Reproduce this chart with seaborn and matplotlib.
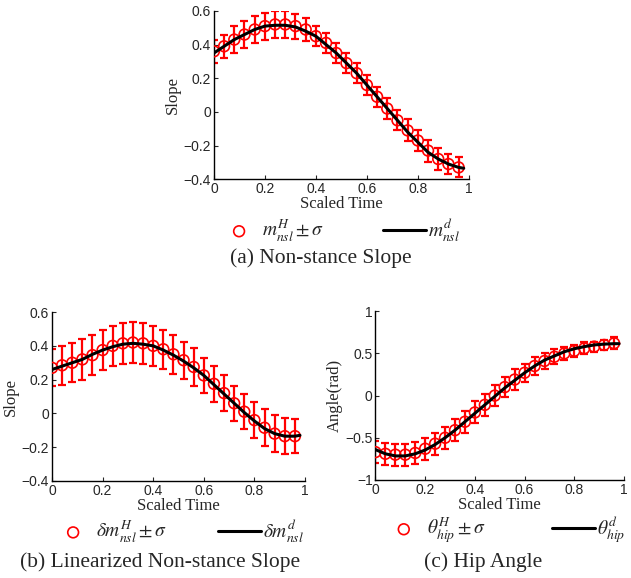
import numpy as np
import pandas as pd
import matplotlib
matplotlib.use("Agg")
import matplotlib.pyplot as plt
import seaborn as sns

# time samples for the human data markers and the desired curve
t_marks = [0.00, 0.04, 0.08, 0.12, 0.16, 0.20, 0.24, 0.28, 0.32, 0.36, 0.40, 0.44, 0.48,
           0.52, 0.56, 0.60, 0.64, 0.68, 0.72, 0.76, 0.80, 0.84, 0.88, 0.92, 0.96]
t_line = t_marks + [0.98]

# (a) non-stance slope
a_mean = [0.36, 0.39, 0.43, 0.46, 0.49, 0.51, 0.52, 0.52, 0.51, 0.49, 0.45, 0.41, 0.35,
          0.29, 0.23, 0.16, 0.09, 0.02, -0.05, -0.11, -0.17, -0.23, -0.28, -0.31, -0.33]
a_std = [0.07, 0.07, 0.08, 0.08, 0.08, 0.08, 0.08, 0.08, 0.075, 0.07, 0.06, 0.06, 0.06,
         0.06, 0.06, 0.06, 0.06, 0.06, 0.06, 0.065, 0.065, 0.065, 0.065, 0.06, 0.06]
a_des = [0.35, 0.39, 0.43, 0.46, 0.49, 0.51, 0.515, 0.515, 0.505, 0.48, 0.45, 0.40, 0.35,
         0.29, 0.23, 0.16, 0.09, 0.02, -0.05, -0.12, -0.18, -0.24, -0.28, -0.31, -0.33, -0.335]

# (b) linearized non-stance slope
b_mean = [0.27, 0.285, 0.30, 0.32, 0.345, 0.375, 0.40, 0.415, 0.42, 0.415, 0.40, 0.38, 0.35,
          0.315, 0.275, 0.225, 0.175, 0.12, 0.06, 0.01, -0.04, -0.085, -0.12, -0.135, -0.135]
b_std = [0.11, 0.115, 0.115, 0.12, 0.12, 0.12, 0.12, 0.12, 0.12, 0.12, 0.12, 0.115, 0.115,
         0.11, 0.11, 0.105, 0.105, 0.105, 0.105, 0.105, 0.105, 0.11, 0.11, 0.105, 0.10]
b_des = [0.26, 0.28, 0.30, 0.32, 0.35, 0.375, 0.395, 0.41, 0.415, 0.41, 0.40, 0.375, 0.345,
         0.31, 0.27, 0.225, 0.17, 0.115, 0.06, 0.005, -0.045, -0.09, -0.12, -0.135, -0.135, -0.13]

# (c) hip angle
c_mean = [-0.67, -0.69, -0.70, -0.70, -0.68, -0.63, -0.57, -0.50, -0.41, -0.31, -0.20, -0.11, 0.0,
          0.10, 0.19, 0.27, 0.35, 0.41, 0.46, 0.50, 0.53, 0.56, 0.58, 0.60, 0.62]
c_std = [0.13, 0.13, 0.13, 0.13, 0.13, 0.13, 0.13, 0.13, 0.13, 0.13, 0.13, 0.13, 0.12,
         0.12, 0.12, 0.11, 0.11, 0.10, 0.09, 0.08, 0.07, 0.07, 0.06, 0.06, 0.07]
c_des = [-0.64, -0.69, -0.715, -0.715, -0.69, -0.645, -0.58, -0.50, -0.41, -0.31, -0.21, -0.11, -0.01,
         0.09, 0.18, 0.27, 0.35, 0.42, 0.47, 0.52, 0.555, 0.58, 0.60, 0.61, 0.615, 0.615]

panels = [
    dict(mean=a_mean, std=a_std, des=a_des, ylabel="Slope", ylim=(-0.4, 0.6),
         yticks=[-0.4, -0.2, 0, 0.2, 0.4, 0.6],
         lab_h=r"$m^H_{nsl} \pm \sigma$", lab_d=r"$m^d_{nsl}$",
         caption="(a) Non-stance Slope", pos=[0.339, 0.690, 0.404, 0.291],
         leg_xy=(0.345, 0.602), colsp=3.0, cap_xy=(0.509, 0.553)),
    dict(mean=b_mean, std=b_std, des=b_des, ylabel="Slope", ylim=(-0.4, 0.6),
         yticks=[-0.4, -0.2, 0, 0.2, 0.4, 0.6],
         lab_h=r"$\delta m^H_{nsl} \pm \sigma$", lab_d=r"$\delta m^d_{nsl}$",
         caption="(b) Linearized Non-stance Slope", pos=[0.0824, 0.168, 0.401, 0.292],
         leg_xy=(0.082, 0.081), colsp=2.6, cap_xy=(0.254, 0.028)),
    dict(mean=c_mean, std=c_std, des=c_des, ylabel="Angle(rad)", ylim=(-1, 1),
         yticks=[-1, -0.5, 0, 0.5, 1],
         lab_h=r"$\theta^H_{hip} \pm \sigma$", lab_d=r"$\theta^d_{hip}$",
         caption="(c) Hip Angle", pos=[0.595, 0.1696, 0.394, 0.292],
         leg_xy=(0.606, 0.084), colsp=3.4, cap_xy=(0.766, 0.028)),
]

sns.set_style("ticks")
plt.rcParams["font.family"] = ["Liberation Sans", "DejaVu Sans"]
plt.rcParams["mathtext.fontset"] = "stix"
serif = ["Liberation Serif", "DejaVu Serif"]

fig = plt.figure(figsize=(6.31, 5.78), dpi=100)

for p in panels:
    ax = fig.add_axes(p["pos"])
    df_h = pd.DataFrame({"t": t_marks, "mean": p["mean"], "std": p["std"]})
    df_d = pd.DataFrame({"t": t_line, "des": p["des"]})

    # human mean +- std with error bars
    ax.errorbar(df_h["t"], df_h["mean"], yerr=df_h["std"], fmt="none", ecolor="red",
                elinewidth=1.6, capsize=3, capthick=1.6, zorder=2)
    sns.scatterplot(data=df_h, x="t", y="mean", ax=ax, marker="o", s=60,
                    facecolors="none", edgecolor="red", linewidth=1.2, zorder=3,
                    label=p["lab_h"])
    # desired curve
    sns.lineplot(data=df_d, x="t", y="des", ax=ax, color="black", linewidth=2.2,
                 zorder=4, label=p["lab_d"])

    ax.set_xlim(0, 1)
    ax.set_ylim(*p["ylim"])
    ax.set_xticks([0, 0.2, 0.4, 0.6, 0.8, 1])
    ax.set_xticklabels(["0", "0.2", "0.4", "0.6", "0.8", "1"])
    ax.set_yticks(p["yticks"])
    ax.set_yticklabels([f"{v:g}".replace("-", "\u2212") for v in p["yticks"]])
    ax.tick_params(direction="in", length=3, labelsize=10, pad=2)
    sns.despine(ax=ax)
    for s in ["left", "bottom"]:
        ax.spines[s].set_linewidth(1.0)
        ax.spines[s].set_color("black")
    ax.set_xlabel("Scaled Time", family=serif, fontsize=12, labelpad=0)
    ax.set_ylabel(p["ylabel"], family=serif, fontsize=12, labelpad=2)

    ax.legend(loc="center left", bbox_to_anchor=p["leg_xy"],
              bbox_transform=fig.transFigure, ncol=2, frameon=False,
              fontsize=14, handlelength=2.2, columnspacing=p["colsp"],
              handletextpad=0.1, borderpad=0, borderaxespad=0)
    fig.text(p["cap_xy"][0], p["cap_xy"][1], p["caption"], family=serif, fontsize=15.5,
             ha="center", va="center")

fig.savefig("out.png", dpi=100)
